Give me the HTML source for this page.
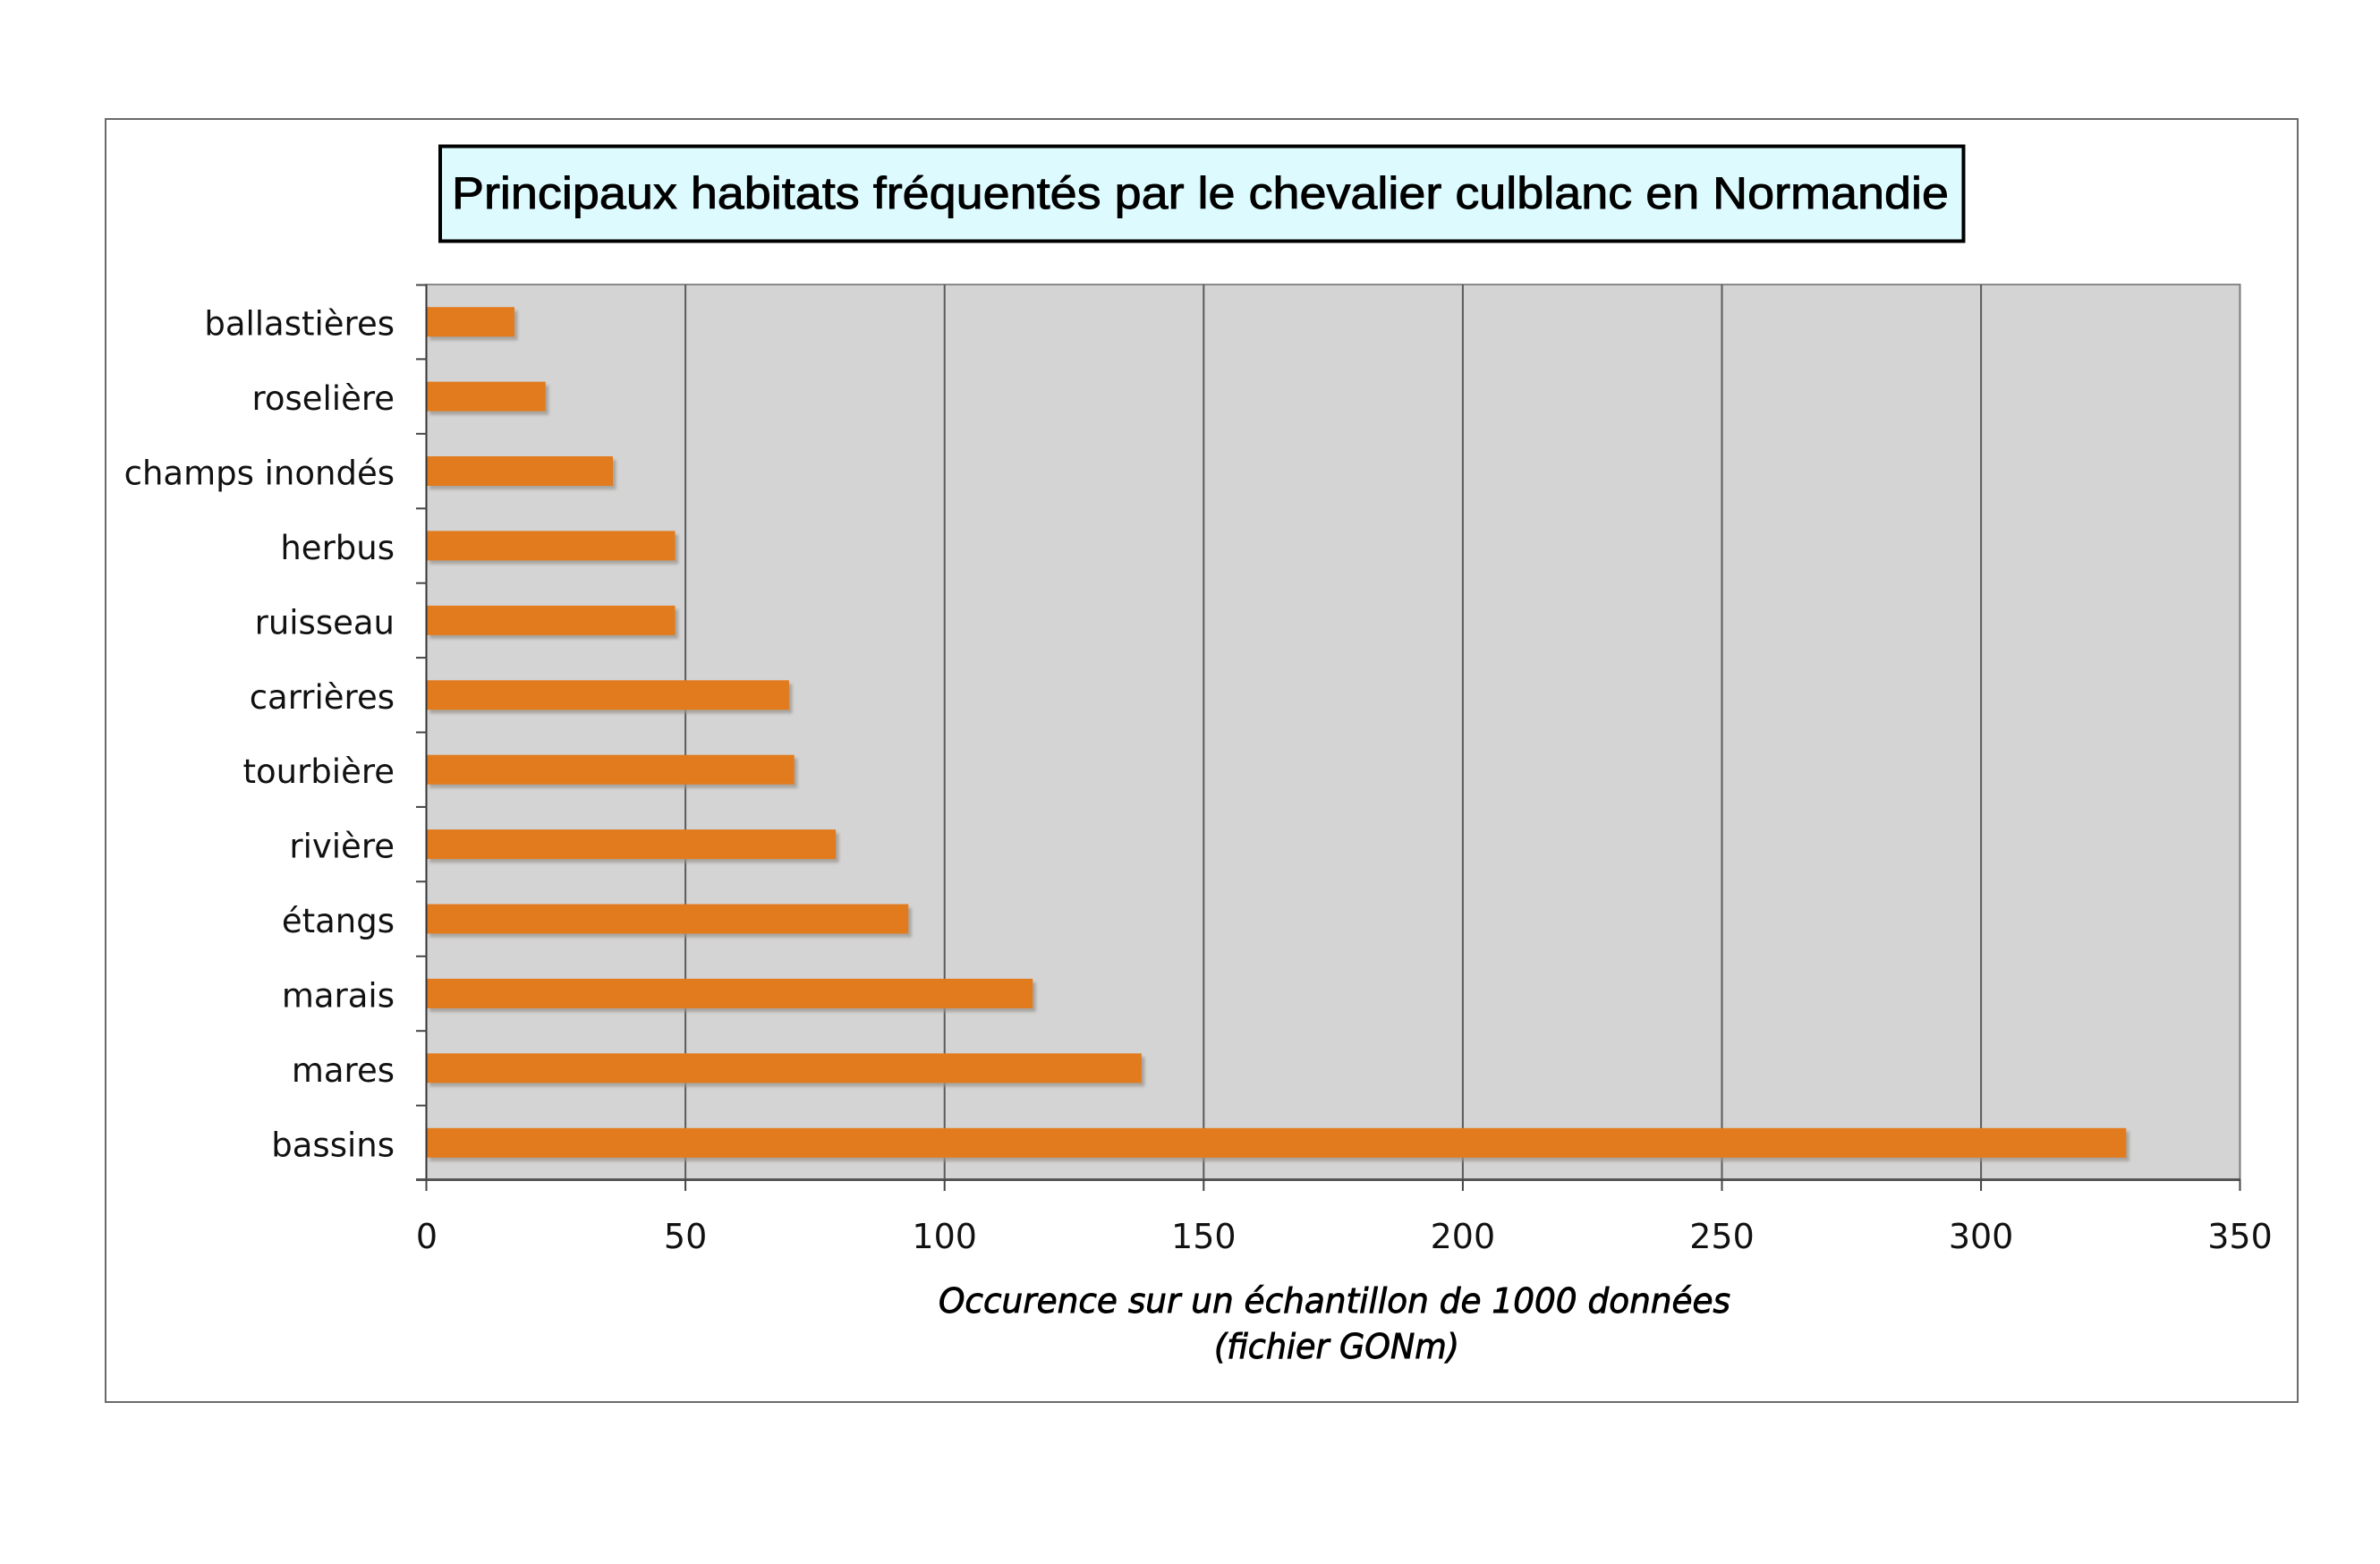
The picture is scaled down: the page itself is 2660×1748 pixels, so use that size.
<!DOCTYPE html>
<html>
<head>
<meta charset="utf-8">
<style>
  html, body { margin:0; padding:0; background:#ffffff; }
  body { width:2660px; height:1748px; overflow:hidden; }
  svg { display:block; }
</style>
</head>
<body>
<svg width="2660" height="1748" viewBox="0 0 2660 1748" xmlns="http://www.w3.org/2000/svg">
  <defs>
    <filter id="sh" x="-5%" y="-50%" width="110%" height="200%">
      <feGaussianBlur stdDeviation="1.6"/>
    </filter>
  </defs>
  <rect x="0" y="0" width="2660" height="1748" fill="#ffffff"/>

  <!-- outer frame -->
  <rect x="118" y="133" width="2450" height="1434" fill="none" stroke="#6a6a6a" stroke-width="2"/>

  <!-- title box -->
  <rect x="492" y="163.5" width="1702.5" height="106" fill="#DDFBFE" stroke="#000" stroke-width="4"/>
  <text x="505" y="233" font-family="'Liberation Sans', Arial, sans-serif" font-size="50" fill="#000" stroke="#000" stroke-width="0.9" textLength="1673" lengthAdjust="spacingAndGlyphs">Principaux habitats fréquentés par le chevalier culblanc en Normandie</text>

  <!-- plot area -->
  <rect x="476.5" y="318" width="2027" height="1000" fill="#D4D4D4" stroke="#8a8a8a" stroke-width="2"/>

  <!-- gridlines -->
  <g stroke="#5a5a5a" stroke-width="2">
    <line x1="766.1" y1="318" x2="766.1" y2="1318"/>
    <line x1="1055.7" y1="318" x2="1055.7" y2="1318"/>
    <line x1="1345.3" y1="318" x2="1345.3" y2="1318"/>
    <line x1="1634.9" y1="318" x2="1634.9" y2="1318"/>
    <line x1="1924.5" y1="318" x2="1924.5" y2="1318"/>
    <line x1="2214.1" y1="318" x2="2214.1" y2="1318"/>
    <line x1="2503.5" y1="318" x2="2503.5" y2="1318" stroke="#7a7a7a"/>
  </g>

  <!-- bar shadows -->
  <g fill="#9a948e" opacity="0.75" filter="url(#sh)">
    <rect x="480" y="347.2" width="98.5" height="33"/>
    <rect x="480" y="430.6" width="133.2" height="33"/>
    <rect x="480" y="514.0" width="208.5" height="33"/>
    <rect x="480" y="597.4" width="278.0" height="33"/>
    <rect x="480" y="680.9" width="278.0" height="33"/>
    <rect x="480" y="764.3" width="405.4" height="33"/>
    <rect x="480" y="847.7" width="411.2" height="33"/>
    <rect x="480" y="931.1" width="457.6" height="33"/>
    <rect x="480" y="1014.5" width="538.7" height="33"/>
    <rect x="480" y="1097.9" width="677.7" height="33"/>
    <rect x="480" y="1181.3" width="799.3" height="33"/>
    <rect x="480" y="1264.8" width="1899.8" height="33"/>
  </g>

  <!-- bars -->
  <g fill="#E27B1E">
    <rect x="476.5" y="343.2" width="98.5" height="33"/>
    <rect x="476.5" y="426.6" width="133.2" height="33"/>
    <rect x="476.5" y="510.0" width="208.5" height="33"/>
    <rect x="476.5" y="593.4" width="278.0" height="33"/>
    <rect x="476.5" y="676.9" width="278.0" height="33"/>
    <rect x="476.5" y="760.3" width="405.4" height="33"/>
    <rect x="476.5" y="843.7" width="411.2" height="33"/>
    <rect x="476.5" y="927.1" width="457.6" height="33"/>
    <rect x="476.5" y="1010.5" width="538.7" height="33"/>
    <rect x="476.5" y="1093.9" width="677.7" height="33"/>
    <rect x="476.5" y="1177.3" width="799.3" height="33"/>
    <rect x="476.5" y="1260.8" width="1899.8" height="33"/>
  </g>

  <!-- axes -->
  <line x1="476.5" y1="318" x2="476.5" y2="1319" stroke="#333" stroke-width="2"/>
  <line x1="465" y1="1318.5" x2="2504" y2="1318.5" stroke="#555" stroke-width="3"/>

  <!-- x ticks -->
  <g stroke="#444" stroke-width="2">
    <line x1="476.5" y1="1318" x2="476.5" y2="1331"/>
    <line x1="766.1" y1="1318" x2="766.1" y2="1331"/>
    <line x1="1055.7" y1="1318" x2="1055.7" y2="1331"/>
    <line x1="1345.3" y1="1318" x2="1345.3" y2="1331"/>
    <line x1="1634.9" y1="1318" x2="1634.9" y2="1331"/>
    <line x1="1924.5" y1="1318" x2="1924.5" y2="1331"/>
    <line x1="2214.1" y1="1318" x2="2214.1" y2="1331"/>
    <line x1="2503.5" y1="1318" x2="2503.5" y2="1331"/>
  </g>

  <!-- y ticks -->
  <g stroke="#444" stroke-width="2">
    <line x1="465" y1="318.5" x2="477" y2="318.5"/>
    <line x1="465" y1="401.4" x2="477" y2="401.4"/>
    <line x1="465" y1="484.8" x2="477" y2="484.8"/>
    <line x1="465" y1="568.3" x2="477" y2="568.3"/>
    <line x1="465" y1="651.7" x2="477" y2="651.7"/>
    <line x1="465" y1="735.1" x2="477" y2="735.1"/>
    <line x1="465" y1="818.5" x2="477" y2="818.5"/>
    <line x1="465" y1="901.9" x2="477" y2="901.9"/>
    <line x1="465" y1="985.3" x2="477" y2="985.3"/>
    <line x1="465" y1="1068.8" x2="477" y2="1068.8"/>
    <line x1="465" y1="1152.2" x2="477" y2="1152.2"/>
    <line x1="465" y1="1235.6" x2="477" y2="1235.6"/>
  </g>

  <!-- category labels -->
  <g font-family="'DejaVu Sans', Verdana, sans-serif" font-size="37" fill="#111" text-anchor="end">
    <text x="441" y="374.7">ballastières</text>
    <text x="441" y="458.1">roselière</text>
    <text x="441" y="541.5">champs inondés</text>
    <text x="441" y="624.9">herbus</text>
    <text x="441" y="708.4">ruisseau</text>
    <text x="441" y="791.8">carrières</text>
    <text x="441" y="875.2">tourbière</text>
    <text x="441" y="958.6">rivière</text>
    <text x="441" y="1042.0">étangs</text>
    <text x="441" y="1125.4">marais</text>
    <text x="441" y="1208.8">mares</text>
    <text x="441" y="1292.3">bassins</text>
  </g>

  <!-- x tick labels -->
  <g font-family="'DejaVu Sans', Verdana, sans-serif" font-size="38" fill="#111" text-anchor="middle">
    <text x="477" y="1395">0</text>
    <text x="766.1" y="1395">50</text>
    <text x="1055.7" y="1395">100</text>
    <text x="1345.3" y="1395">150</text>
    <text x="1634.9" y="1395">200</text>
    <text x="1924.5" y="1395">250</text>
    <text x="2214.1" y="1395">300</text>
    <text x="2503.5" y="1395">350</text>
  </g>

  <!-- axis title -->
  <g font-family="'DejaVu Sans', Verdana, sans-serif" font-size="38" font-style="italic" fill="#000" stroke="#000" stroke-width="0.9">
    <text x="1049" y="1467" textLength="885" lengthAdjust="spacingAndGlyphs">Occurence sur un échantillon de 1000 données</text>
    <text x="1357" y="1518" textLength="274" lengthAdjust="spacingAndGlyphs">(fichier GONm)</text>
  </g>
</svg>
</body>
</html>
